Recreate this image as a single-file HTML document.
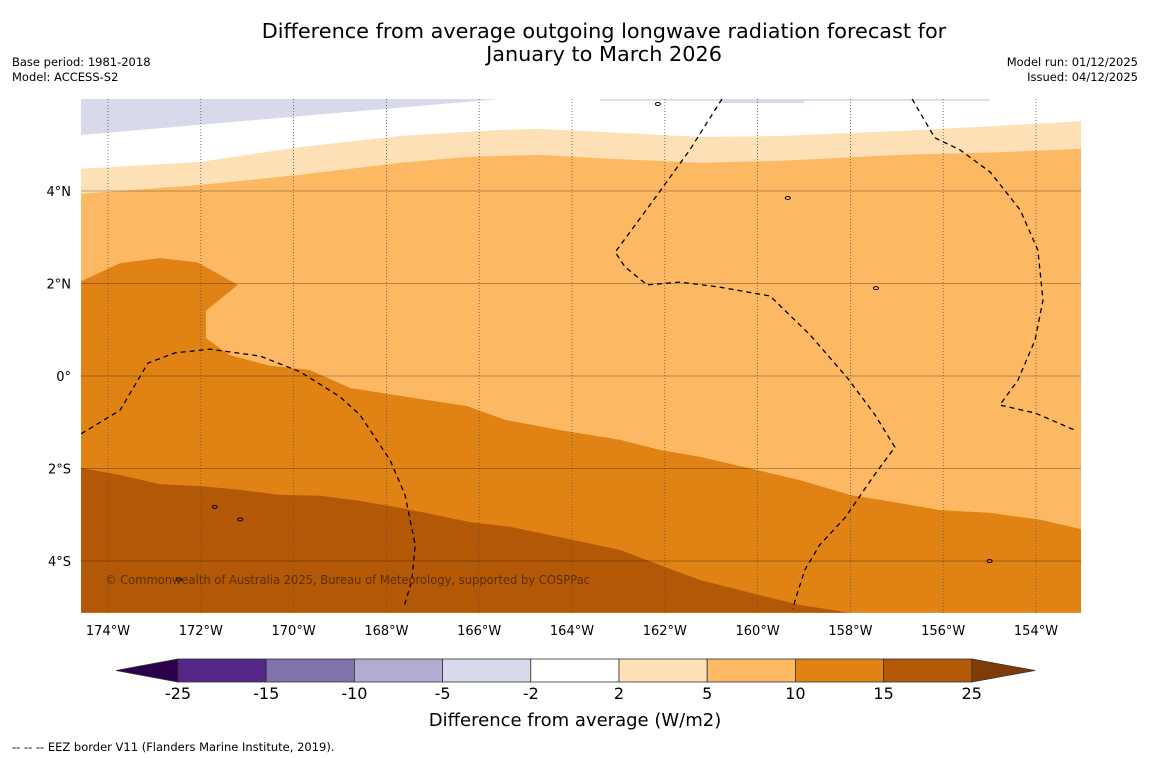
<!DOCTYPE html>
<html><head><meta charset="utf-8"><style>
body{margin:0;background:#fff;width:1150px;height:758px;overflow:hidden;font-family:"DejaVu Sans","Liberation Sans",sans-serif}
svg{position:absolute;left:0;top:0}
</style></head><body>
<svg id="chart" width="1150" height="758">
<text x="604" y="38" text-anchor="middle" font-size="20.8">Difference from average outgoing longwave radiation forecast for</text>
<text x="604" y="61" text-anchor="middle" font-size="20.8">January to March 2026</text>
<text x="12" y="66" font-size="11.5">Base period: 1981-2018</text>
<text x="12" y="81" font-size="11.5">Model: ACCESS-S2</text>
<text x="1138" y="66" font-size="11.5" text-anchor="end">Model run: 01/12/2025</text>
<text x="1138" y="81" font-size="11.5" text-anchor="end">Issued: 04/12/2025</text>
<defs><clipPath id="mapclip"><rect x="81" y="99" width="1000" height="514"/></clipPath></defs>
<g id="map" clip-path="url(#mapclip)"></g>
<g id="axes"></g>
<g id="cbar"></g>
<text x="575" y="726" text-anchor="middle" font-size="18">Difference from average (W/m2)</text>
<text x="12" y="751" font-size="11.5">--  --  -- EEZ border V11 (Flanders Marine Institute, 2019).</text>
</svg>
<script>
const lonTicks=[-174,-172,-170,-168,-166,-164,-162,-160,-158,-156,-154];
const latTicks=[4,2,0,-2,-4];
const levelColors=["#d8daeb","#ffffff","#fee0b6","#fdb863","#e08214","#b35806"];
const contourM2=[[-174.58,5.21],[-165.55,5.99]];
const contourM2b=[[-163.4,5.99],[-163.4,5.95],[-160.8,5.95],[-160.8,5.90],[-159.0,5.90],[-159.0,5.95],[-155.0,5.95],[-155.0,5.99]];
const contour5=[[-174.58,4.48],[-172.02,4.63],[-169.86,4.95],[-167.71,5.19],[-165.55,5.32],[-164.69,5.34],[-163.40,5.28],[-161.24,5.17],[-159.52,5.19],[-156.93,5.30],[-154.78,5.41],[-153.03,5.51]];
const contour10=[[-174.58,3.94],[-172.02,4.13],[-169.86,4.35],[-167.71,4.61],[-166.20,4.74],[-164.69,4.78],[-163.40,4.71],[-161.24,4.61],[-159.52,4.65],[-156.93,4.78],[-154.78,4.84],[-153.03,4.91]];
const contour15=[[-174.58,2.05],[-173.74,2.44],[-172.88,2.55],[-172.08,2.46],[-171.20,1.97],[-171.89,1.41],[-171.89,0.82],[-171.37,0.45],[-170.51,0.22],[-169.65,0.13],[-168.78,-0.26],[-167.71,-0.43],[-166.26,-0.65],[-165.44,-0.95],[-164.26,-1.17],[-162.97,-1.38],[-162.10,-1.60],[-161.24,-1.75],[-159.95,-2.05],[-159.09,-2.25],[-158.01,-2.57],[-156.93,-2.75],[-156.07,-2.90],[-154.99,-2.96],[-153.91,-3.11],[-153.03,-3.31]];
const contour25=[[-174.58,-1.99],[-173.74,-2.14],[-172.88,-2.34],[-172.02,-2.38],[-171.16,-2.46],[-170.29,-2.57],[-169.43,-2.59],[-168.57,-2.70],[-167.71,-2.85],[-167.06,-2.98],[-166.20,-3.16],[-165.34,-3.26],[-164.47,-3.44],[-162.97,-3.76],[-162.10,-4.09],[-161.24,-4.41],[-159.95,-4.74],[-159.09,-4.95],[-158.01,-5.12]];
const eezA=[[-174.58,-1.25],[-173.74,-0.74],[-173.14,0.28],[-172.56,0.50],[-171.80,0.58],[-170.72,0.43],[-169.86,0.09],[-169.0,-0.45],[-168.57,-0.84],[-167.92,-1.82],[-167.60,-2.57],[-167.38,-3.65],[-167.45,-4.41],[-167.62,-4.99]];
const eezB=[[-160.77,5.99],[-161.46,4.89],[-162.32,3.70],[-163.07,2.68],[-162.86,2.36],[-162.38,1.97],[-161.67,2.03],[-160.81,1.92],[-159.73,1.73],[-158.87,0.89],[-158.05,-0.06],[-157.47,-0.84],[-157.04,-1.54],[-157.47,-2.12],[-158.12,-3.07],[-158.66,-3.65],[-158.98,-4.19],[-159.19,-4.84],[-159.24,-5.04]];
const eezC=[[-156.67,5.99],[-156.18,5.15],[-155.64,4.89],[-154.99,4.41],[-154.34,3.59],[-153.96,2.72],[-153.85,1.64],[-154.02,0.78],[-154.39,-0.09],[-154.78,-0.63],[-154.02,-0.80],[-153.12,-1.19]];
const islands=[[-159.35,3.85],[-157.45,1.9],[-171.7,-2.83],[-172.47,-4.4],[-155.0,-4.0],[-171.15,-3.1],[-162.15,5.88]];
const cbLevels=["-25","-15","-10","-5","-2","2","5","10","15","25"];
const cbColors=["#542788","#8073ac","#b2abd2","#d8daeb","#ffffff","#fee0b6","#fdb863","#e08214","#b35806"];

const NS="http://www.w3.org/2000/svg";
const X=lon=>108+(lon+174)*46.4;
const Y=lat=>376-lat*46.25;
function mk(tag,attrs,parent){const e=document.createElementNS(NS,tag);for(const k in attrs)e.setAttribute(k,attrs[k]);parent.appendChild(e);return e;}
const pts=a=>a.map(p=>X(p[0]).toFixed(1)+","+Y(p[1]).toFixed(1)).join(" ");
const map=document.getElementById("map");
const L=-174.58,R=-153.03,T=5.99,B=-5.12;
let bg=mk("rect",{x:81,y:99,width:1000,height:514,fill:levelColors[0]},map);


const fills=[
 [contourM2.concat([[-163.4,T]]).concat(contourM2b).concat([[R,T],[R,B],[L,B]]),levelColors[1],'region-minus2-to-2'],
 [contour5.concat([[R,B],[L,B]]),levelColors[2],'region-2-to-5'],
 [contour10.concat([[R,B],[L,B]]),levelColors[3],'region-5-to-10'],
 [contour15.concat([[R,B],[L,B]]),levelColors[4],'region-10-to-15'],
 [contour25.concat([[L,B]]),levelColors[5],'region-15-to-25']];
fills.forEach(f=>{const p=mk("polygon",{points:pts(f[0]),fill:f[1]},map);
 
 });
lonTicks.forEach(l=>{const g=mk("line",{x1:X(l),x2:X(l),y1:99,y2:613,stroke:"#555","stroke-width":0.8,"stroke-dasharray":"1,2"},map);
 
 });
latTicks.forEach(l=>{const g=mk("line",{x1:81,x2:1081,y1:Y(l),y2:Y(l),stroke:"rgba(0,0,0,0.28)","stroke-width":1},map);
 
 });
[eezA,eezB,eezC].forEach(a=>{const p=mk("polyline",{points:pts(a),fill:"none",stroke:"#000","stroke-width":1.3,"stroke-dasharray":"5,4"},map);
 
 });
islands.forEach(i=>{const e=mk("ellipse",{cx:X(i[0]),cy:Y(i[1]),rx:2.5,ry:1.5,fill:"none",stroke:"#000","stroke-width":1},map);
 
 });
const cr=mk("text",{x:105,y:584,"font-size":12,fill:"#5a3000",textLength:485,lengthAdjust:"spacingAndGlyphs"},map);
cr.textContent="© Commonwealth of Australia 2025, Bureau of Meteorology, supported by COSPPac";


const axes=document.getElementById("axes");
lonTicks.forEach(l=>{const t=mk("text",{x:X(l),y:635,"font-size":13,"text-anchor":"middle"},axes);
 t.textContent=Math.abs(l)+"°W";
 
 });
latTicks.forEach(l=>{const t=mk("text",{x:71,y:Y(l)+5,"font-size":13,"text-anchor":"end"},axes);
 t.textContent=l===0?"0°":Math.abs(l)+"°"+(l>0?"N":"S");
 
 });
const cb=document.getElementById("cbar");
const cx0=178,cw=88.2,cy=659,ch=23;
const lt=mk("polygon",{points:`${cx0},${cy} ${cx0},${cy+ch} 116,${cy+ch/2}`,fill:"#2d004b",stroke:"#333","stroke-width":0.8},cb);


cbColors.forEach((c,i)=>{const r=mk("rect",{x:cx0+i*cw,y:cy,width:cw,height:ch,fill:c,stroke:"#333","stroke-width":0.8},cb);
 
 });
const xe=cx0+cbColors.length*cw;
const rt=mk("polygon",{points:`${xe},${cy} ${xe},${cy+ch} 1035,${cy+ch/2}`,fill:"#7f3b08",stroke:"#333","stroke-width":0.8},cb);


cbLevels.forEach((v,i)=>{const t=mk("text",{x:cx0+i*cw,y:699,"font-size":16,"text-anchor":"middle"},cb);
 t.textContent=v;
 
 });
</script>
</body></html>
